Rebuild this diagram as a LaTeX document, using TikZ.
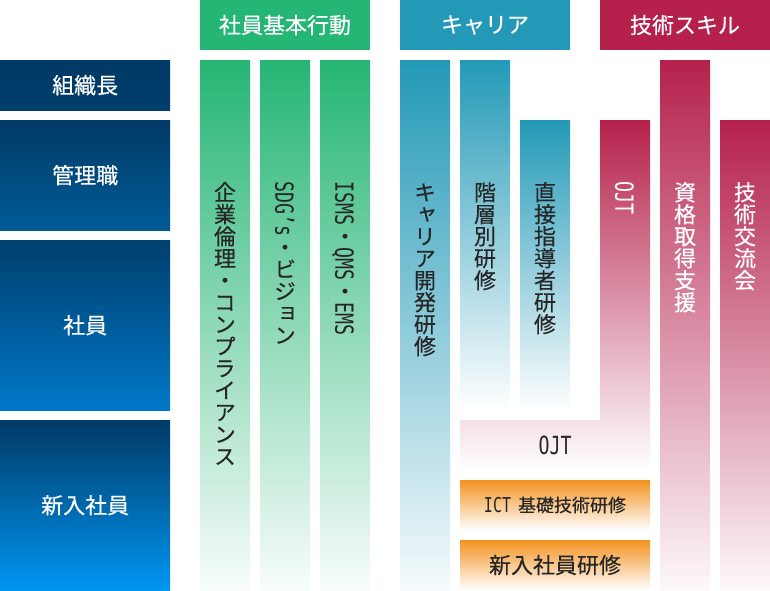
\documentclass[tikz,border=0pt]{standalone}
\usepackage{fontspec}
\usepackage{graphicx}
\newfontfamily\jp{Noto Sans CJK JP}[FakeBold=0.3]
\newfontfamily\jpv{Noto Sans CJK JP}[RawFeature=+vert,FakeBold=0.3]
\newfontfamily\latmono{DejaVu Sans Mono}
\definecolor{cgreen}{HTML}{25B574}
\definecolor{cteal}{HTML}{2399B7}
\definecolor{ccrim}{HTML}{B5214C}
\definecolor{corange}{HTML}{F39220}
\definecolor{cnavy}{HTML}{003A66}
\definecolor{ink}{HTML}{262626}
\newlength\tw
\setlength\tw{22pt}
% one upright CJK character inside a rotated line
\newcommand\vc[1]{\rotatebox[origin=c]{90}{\makebox[\tw][c]{\smash{#1}}\rule[-0.12\tw]{0pt}{\tw}}}
\newcommand\tate[1]{\tateloop#1\relax}
\def\tateloop#1{\ifx\relax#1\else\vc{#1}\expandafter\tateloop\fi}
% narrow Latin
\newcommand\lt[1]{\raisebox{-1.2pt}[0.88\tw][0.12\tw]{\scalebox{0.73}[1]{\latmono\fontsize{25}{25}\selectfont #1}}}
\newcommand\ltsmall[1]{\raisebox{-0.8pt}{\scalebox{0.73}[1]{\latmono\fontsize{20.5}{20.5}\selectfont #1}}}
\newcommand\tatebox[1]{\rotatebox{-90}{\hbox{#1}}}
\tikzset{
  hdr/.style={minimum width=170pt, minimum height=50pt, inner sep=0pt, text=white,
    font=\jp\fontsize{22}{22}\selectfont},
  lbl/.style={anchor=north west, minimum width=170pt, inner sep=0pt, text=white,
    font=\jp\fontsize{22}{22}\selectfont},
  vtext/.style={anchor=north, inner sep=0pt, font=\jpv\fontsize{22}{22}\selectfont},
  htext/.style={inner sep=0pt, text=ink, font=\jp\fontsize{22}{22}\selectfont},
}
\begin{document}
\begin{tikzpicture}[x=1pt,y=-1pt]
\useasboundingbox (0,0) rectangle (770,590);
% headers
\node[hdr, fill=cgreen] (hA) at (285,25) {社員基本行動};
\node[hdr, fill=cteal] (hB) at (485,25) {キャリア};
\node[hdr, fill=ccrim] (hC) at (685,25) {技術スキル};
% levels
\node[lbl, minimum height=50pt, top color=cnavy, bottom color={rgb,255:red,0;green,62;blue,108}] (l1) at (0,60) {組織長};
\node[lbl, minimum height=110pt, top color=cnavy, bottom color={rgb,255:red,0;green,91;blue,151}] (l2) at (0,120) {管理職};
\node[lbl, minimum height=170pt, top color={rgb,255:red,0;green,63;blue,110}, bottom color={rgb,255:red,0;green,120;blue,200}] (l3) at (0,240) {社員};
\node[lbl, minimum height=170pt, top color=cnavy, bottom color={rgb,255:red,0;green,150;blue,242}] (l4) at (0,420) {新入社員};
% green bars
\shade[top color=cgreen, bottom color=cgreen!3] (200,60) rectangle (250,590);
\shade[top color=cgreen, bottom color=cgreen!3] (260,60) rectangle (310,590);
\shade[top color=cgreen, bottom color=cgreen!3] (320,60) rectangle (370,590);
% teal bars
\shade[top color=cteal, bottom color=cteal!4] (400,60) rectangle (450,590);
\shade[top color=cteal, bottom color=white] (460,60) rectangle (510,410);
\shade[top color=cteal, bottom color=white] (520,120) rectangle (570,410);
% crimson
\shade[top color=ccrim, bottom color=white] (600,120) -- (650,120) -- (650,470) -- (460,470) -- (460,420) -- (600,420) -- cycle;
\shade[top color=ccrim, bottom color=ccrim!3] (660,60) rectangle (710,590);
\shade[top color=ccrim, bottom color=ccrim!3] (720,120) rectangle (770,590);
% orange
\shade[top color=corange, bottom color=white] (460,480) rectangle (650,530);
\shade[top color=corange, bottom color=white] (460,540) rectangle (650,590);
% vertical texts
\node[vtext, text=ink] (vA1) at (225,181) {\tatebox{\tate{企業倫理・コンプライアンス}}};
\node[vtext, text=ink] (vA2) at (285,181) {\tatebox{\lt{SDG’s}\tate{・ビジョン}}};
\node[vtext, text=ink] (vA3) at (345,181) {\tatebox{\lt{ISMS}\tate{・}\lt{QMS}\tate{・}\lt{EMS}}};
\node[vtext, text=ink] (vB1) at (425,181) {\tatebox{\tate{キャリア開発研修}}};
\node[vtext, text=ink] (vB2) at (485,181) {\tatebox{\tate{階層別研修}}};
\node[vtext, text=ink] (vB3) at (545,181) {\tatebox{\tate{直接指導者研修}}};
\node[vtext, text=white] (vC1) at (625,181) {\tatebox{\lt{OJT}}};
\node[vtext, text=white] (vC2) at (685,181) {\tatebox{\tate{資格取得支援}}};
\node[vtext, text=white] (vC3) at (745,181) {\tatebox{\tate{技術交流会}}};
% horizontal texts
\node[htext] (ojt) at (555,445) {\lt{OJT}};
\node[htext, font=\jp\fontsize{18}{18}\selectfont] (ict) at (555,505) {\ltsmall{ICT}\hspace{7pt}基礎技術研修};
\node[htext] (newc) at (555,565) {新入社員研修};
\end{tikzpicture}
\end{document}
